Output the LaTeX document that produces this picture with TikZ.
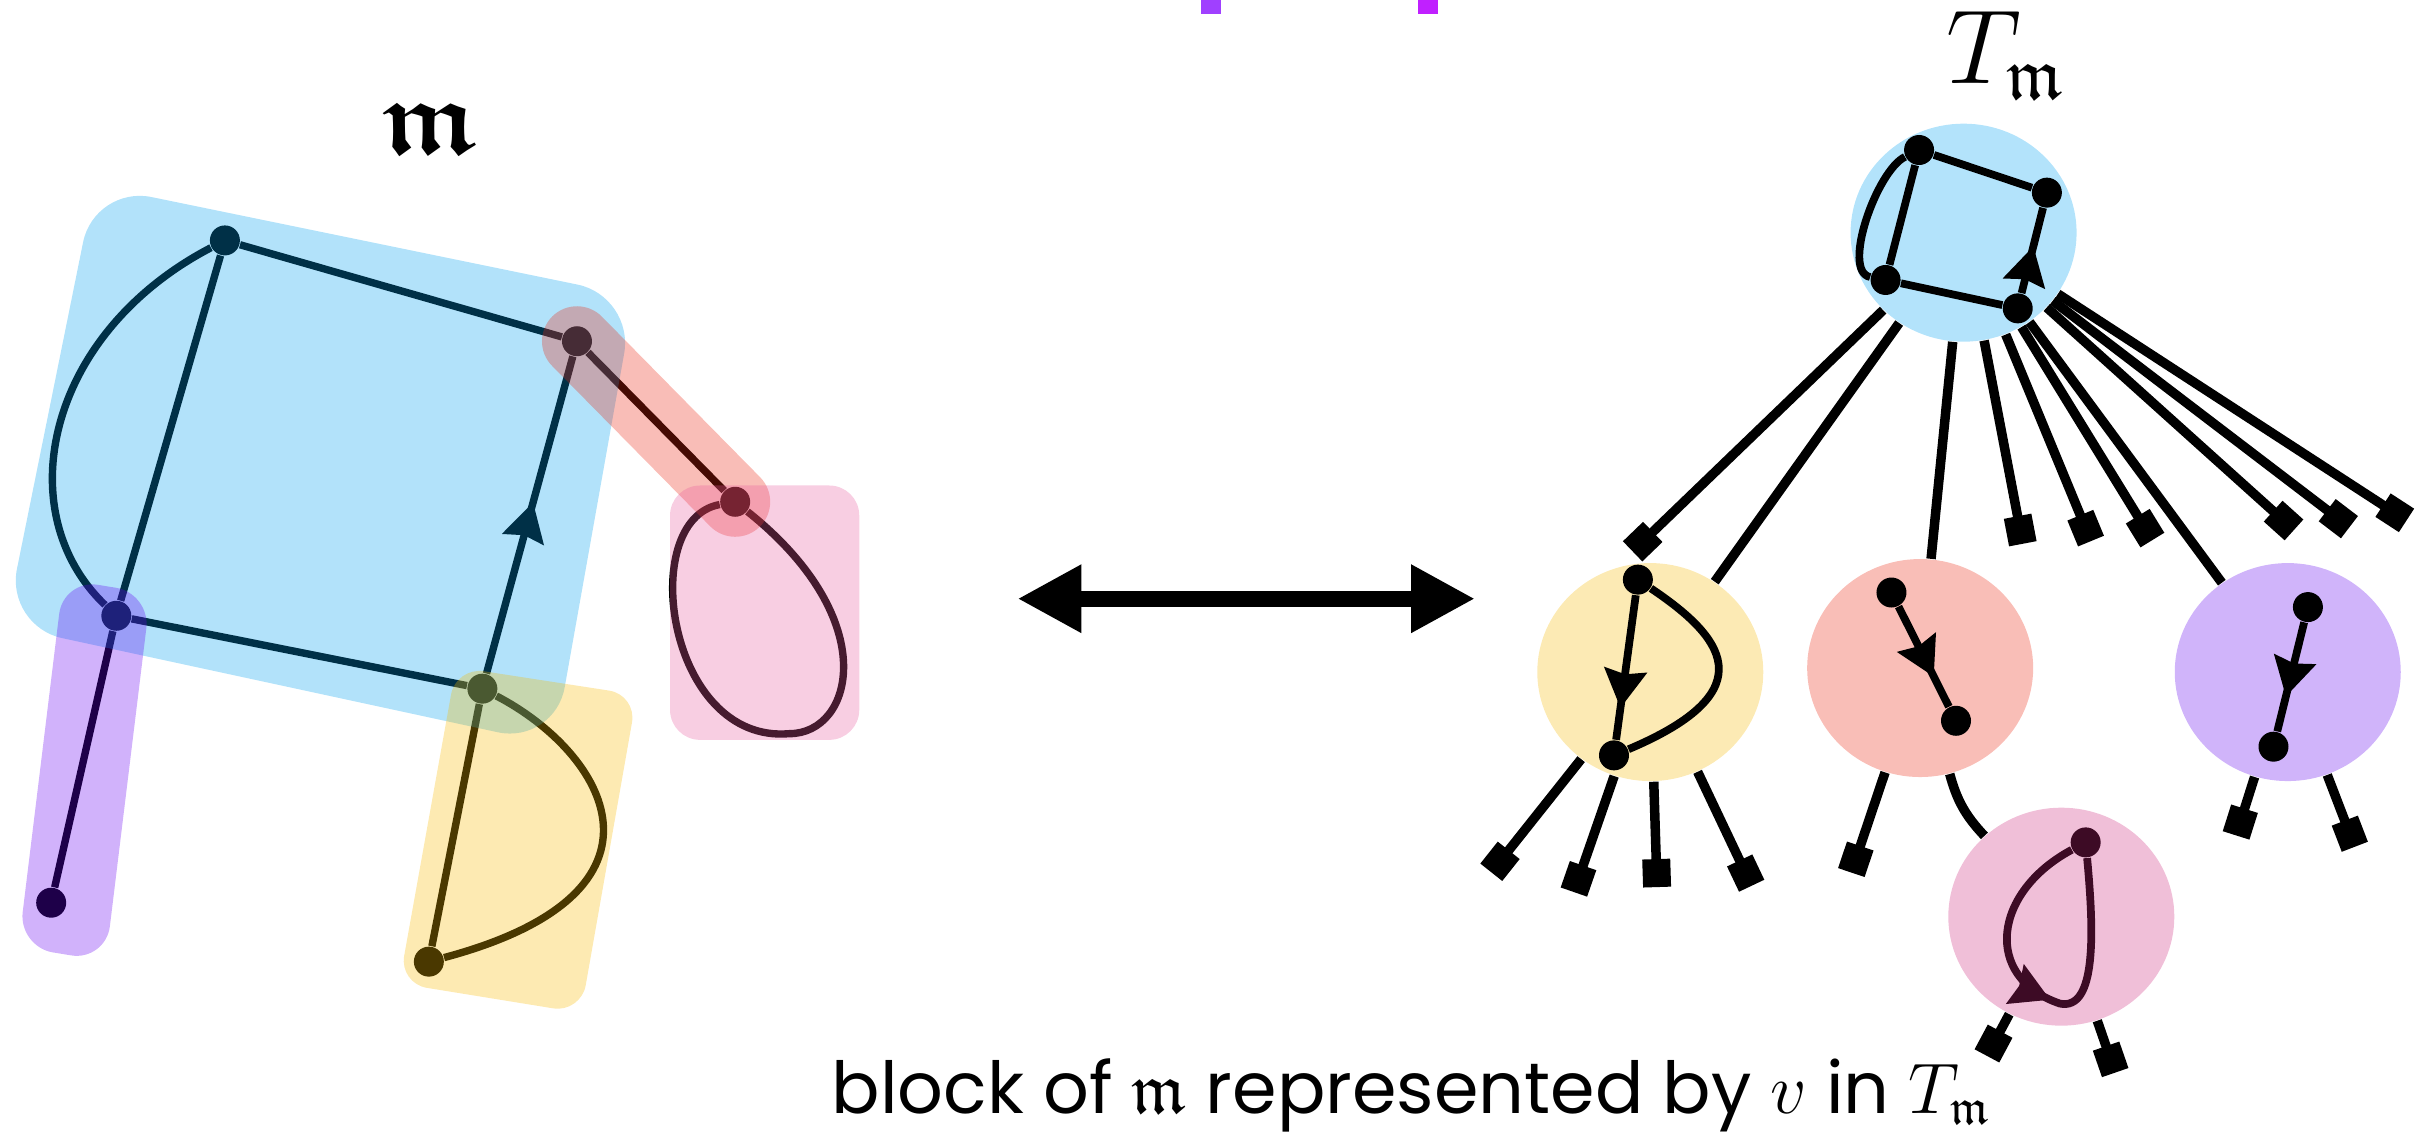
\RequirePackage{fix-cm}
\documentclass[tikz,border=0pt]{standalone}
\usepackage{amsmath,amssymb}
\usepackage{fontspec}
\newfontfamily\capfont{Poppins}
\usepackage{tikz}
\usetikzlibrary{arrows.meta,positioning,decorations.markings,shapes.geometric}
\definecolor{blueov}{RGB}{0,160,238}
\definecolor{purpov}{RGB}{102,0,242}
\definecolor{yellov}{RGB}{248,186,0}
\definecolor{redov}{RGB}{235,38,16}
\definecolor{pinkov}{RGB}{232,92,158}
\definecolor{treeblue}{RGB}{179,227,251}
\definecolor{treeyellow}{RGB}{252,234,180}
\definecolor{treesalmon}{RGB}{249,190,183}
\definecolor{treepurple}{RGB}{208,180,250}
\definecolor{treepink}{RGB}{240,191,216}
\definecolor{maroon}{RGB}{61,11,37}
\definecolor{topsqa}{RGB}{160,64,255}
\definecolor{topsqb}{RGB}{192,32,255}

\begin{document}
\begin{tikzpicture}[x=0.1551mm,y=-0.1551mm,>=Stealth,
  vtx/.style={circle,fill=black,inner sep=0pt,minimum size=3mm},
  gedge/.style={line width=2.1pt},
  tedge/.style={line width=2.2pt},
  treeline/.style={line width=2.7pt},
  leafedge/.style={treeline,-{Square[length=2.8mm,width=2.8mm]},shorten >=-1.4mm},
  blob/.style={ellipse,inner sep=0pt,minimum width=22.6mm,minimum height=21.8mm},
  veil/.style={opacity=0.3},
  midarrow/.style={postaction={decorate},decoration={markings,
    mark=at position #1 with {\arrow{Stealth[length=3.8mm,width=4.2mm,inset=0.4mm]}}}}]
\useasboundingbox (0,0) rectangle (1568,732);
\fill[topsqa] (774.4,0) rectangle (787.2,9);
\fill[topsqb] (914.3,0) rectangle (927.2,9);
\node[anchor=base,font=\fontsize{30}{36}\selectfont] (mlabel) at (277.6,99) {$\boldsymbol{\mathfrak{m}}$};
\node[vtx] (a) at (145,155) {};
\node[vtx] (b) at (372,220) {};
\node[vtx] (c) at (75,397) {};
\node[vtx] (d) at (311,444) {};
\node[vtx] (e) at (474,323.5) {};
\node[vtx] (f) at (33,582) {};
\node[vtx] (g) at (276.5,620) {};
\draw[gedge] (a) -- (b);
\draw[gedge] (a) -- (c);
\draw[gedge] (a) .. controls (30,215) and (5,330) .. (c);
\draw[gedge] (c) -- (d);
\draw[gedge,midarrow=0.54] (d) -- (b);
\draw[gedge] (b) -- (e);
\draw[gedge] (e) .. controls (410,335) and (430,480) .. (509,473) .. controls (550,473) and (570,400) .. (e);
\draw[gedge] (c) -- (f);
\draw[gedge] (d) -- (g);
\draw[gedge] (d) .. controls (390,485) and (445,575) .. (g);
\fill[veil,fill=blueov,rounded corners=5.8mm] (61,119.5) -- (409,191) -- (357.5,480) -- (3.5,403.5) -- cycle;
\draw[veil,draw=redov,line width=7mm,line cap=round] (b.center) -- (e.center);
\fill[veil,fill=pinkov,rounded corners=3mm] (432,313) rectangle (554,477);
\fill[veil,fill=purpov,rounded corners=3.5mm] (40.9,373.4) -- (97.1,382.6) -- (68.1,619.6) -- (11.9,610.4) -- cycle;
\fill[veil,fill=yellov,rounded corners=2.8mm] (294,430) -- (410.6,448) -- (374.5,653) -- (257.4,634) -- cycle;
\coordinate (swapl) at (656,386);
\coordinate (swapr) at (951,386);
\draw[line width=4.5pt,{Triangle[length=6.4mm,width=6.4mm]}-{Triangle[length=6.4mm,width=6.4mm]}] (swapl) -- (swapr);
\node[anchor=base,font=\fontsize{30}{36}\selectfont] (tlabel) at (1293,54) {$T_{\mathfrak{m}}$};
\node[blob,fill=treeblue] (root) at (1266,150) {};
\node[blob,fill=treeyellow] (yel) at (1064,433.3) {};
\node[blob,fill=treesalmon] (sal) at (1238,430.7) {};
\node[blob,fill=treepurple] (pur) at (1475,433.3) {};
\node[blob,fill=treepink] (pnk) at (1329,591) {};
\draw[treeline] (root) -- (yel);
\draw[treeline] (root) -- (sal);
\draw[treeline] (root) -- (pur);
\draw[treeline] (sal) to[bend right=14] (pnk);
\foreach \src/\leaf/\x/\y in {root/rl1/1059.1/349.2, root/rl2/1302.5/341.7, root/rl3/1344.7/340.5,
    root/rl4/1383/340.5, root/rl5/1472.3/335.6, root/rl6/1507.6/334.4, root/rl7/1544/330.6,
    yel/yl1/967.1/555.3, yel/yl2/1017.7/566.6, yel/yl3/1068.1/562.9, yel/yl4/1125.5/562.9,
    sal/sl1/1196.5/554, pnk/pl1/1285.3/672.8, pnk/pl2/1360.8/683,
    pur/ul1/1444.4/530, pur/ul2/1515/537.5}
  {\coordinate (\leaf) at (\x,\y); \draw[leafedge] (\src) -- (\leaf);}
\node[vtx] (r1) at (1237.3,96.7) {};
\node[vtx] (r2) at (1319.7,124.2) {};
\node[vtx] (r3) at (1215.7,180.5) {};
\node[vtx] (r4) at (1300.9,198.8) {};
\draw[tedge] (r1) -- (r2);
\draw[tedge] (r1) -- (r3);
\draw[tedge] (r1) .. controls (1210,110) and (1187,175) .. (r3);
\draw[tedge] (r3) -- (r4);
\draw[tedge,midarrow=0.55] (r4) -- (r2);
\node[vtx] (y1) at (1056,373.7) {};
\node[vtx] (y2) at (1040.6,487) {};
\draw[tedge,midarrow=0.78] (y1) -- (y2);
\draw[tedge] (y1) .. controls (1110,410) and (1140,445) .. (y2);
\node[vtx] (s1) at (1219.5,382) {};
\node[vtx] (s2) at (1261.1,464.7) {};
\draw[tedge,midarrow=0.7] (s1) -- (s2);
\node[vtx] (u1) at (1488,391.4) {};
\node[vtx] (u2) at (1465.8,481.4) {};
\draw[tedge,midarrow=0.68] (u1) -- (u2);
\node[vtx,fill=maroon] (p1) at (1344.7,543.1) {};
\draw[tedge,color=maroon,midarrow=0.53] (p1) .. controls (1285,575) and (1278,630) .. (1328,647) .. controls (1352,652) and (1350,600) .. (p1);
\node[anchor=base,font=\capfont\fontsize{20.4}{24}\selectfont] (caption) at (909.7,718)
  {block of $\mathfrak{m}$ represented by $v$ in $T_{\mathfrak{m}}$};
\end{tikzpicture}
\end{document}
